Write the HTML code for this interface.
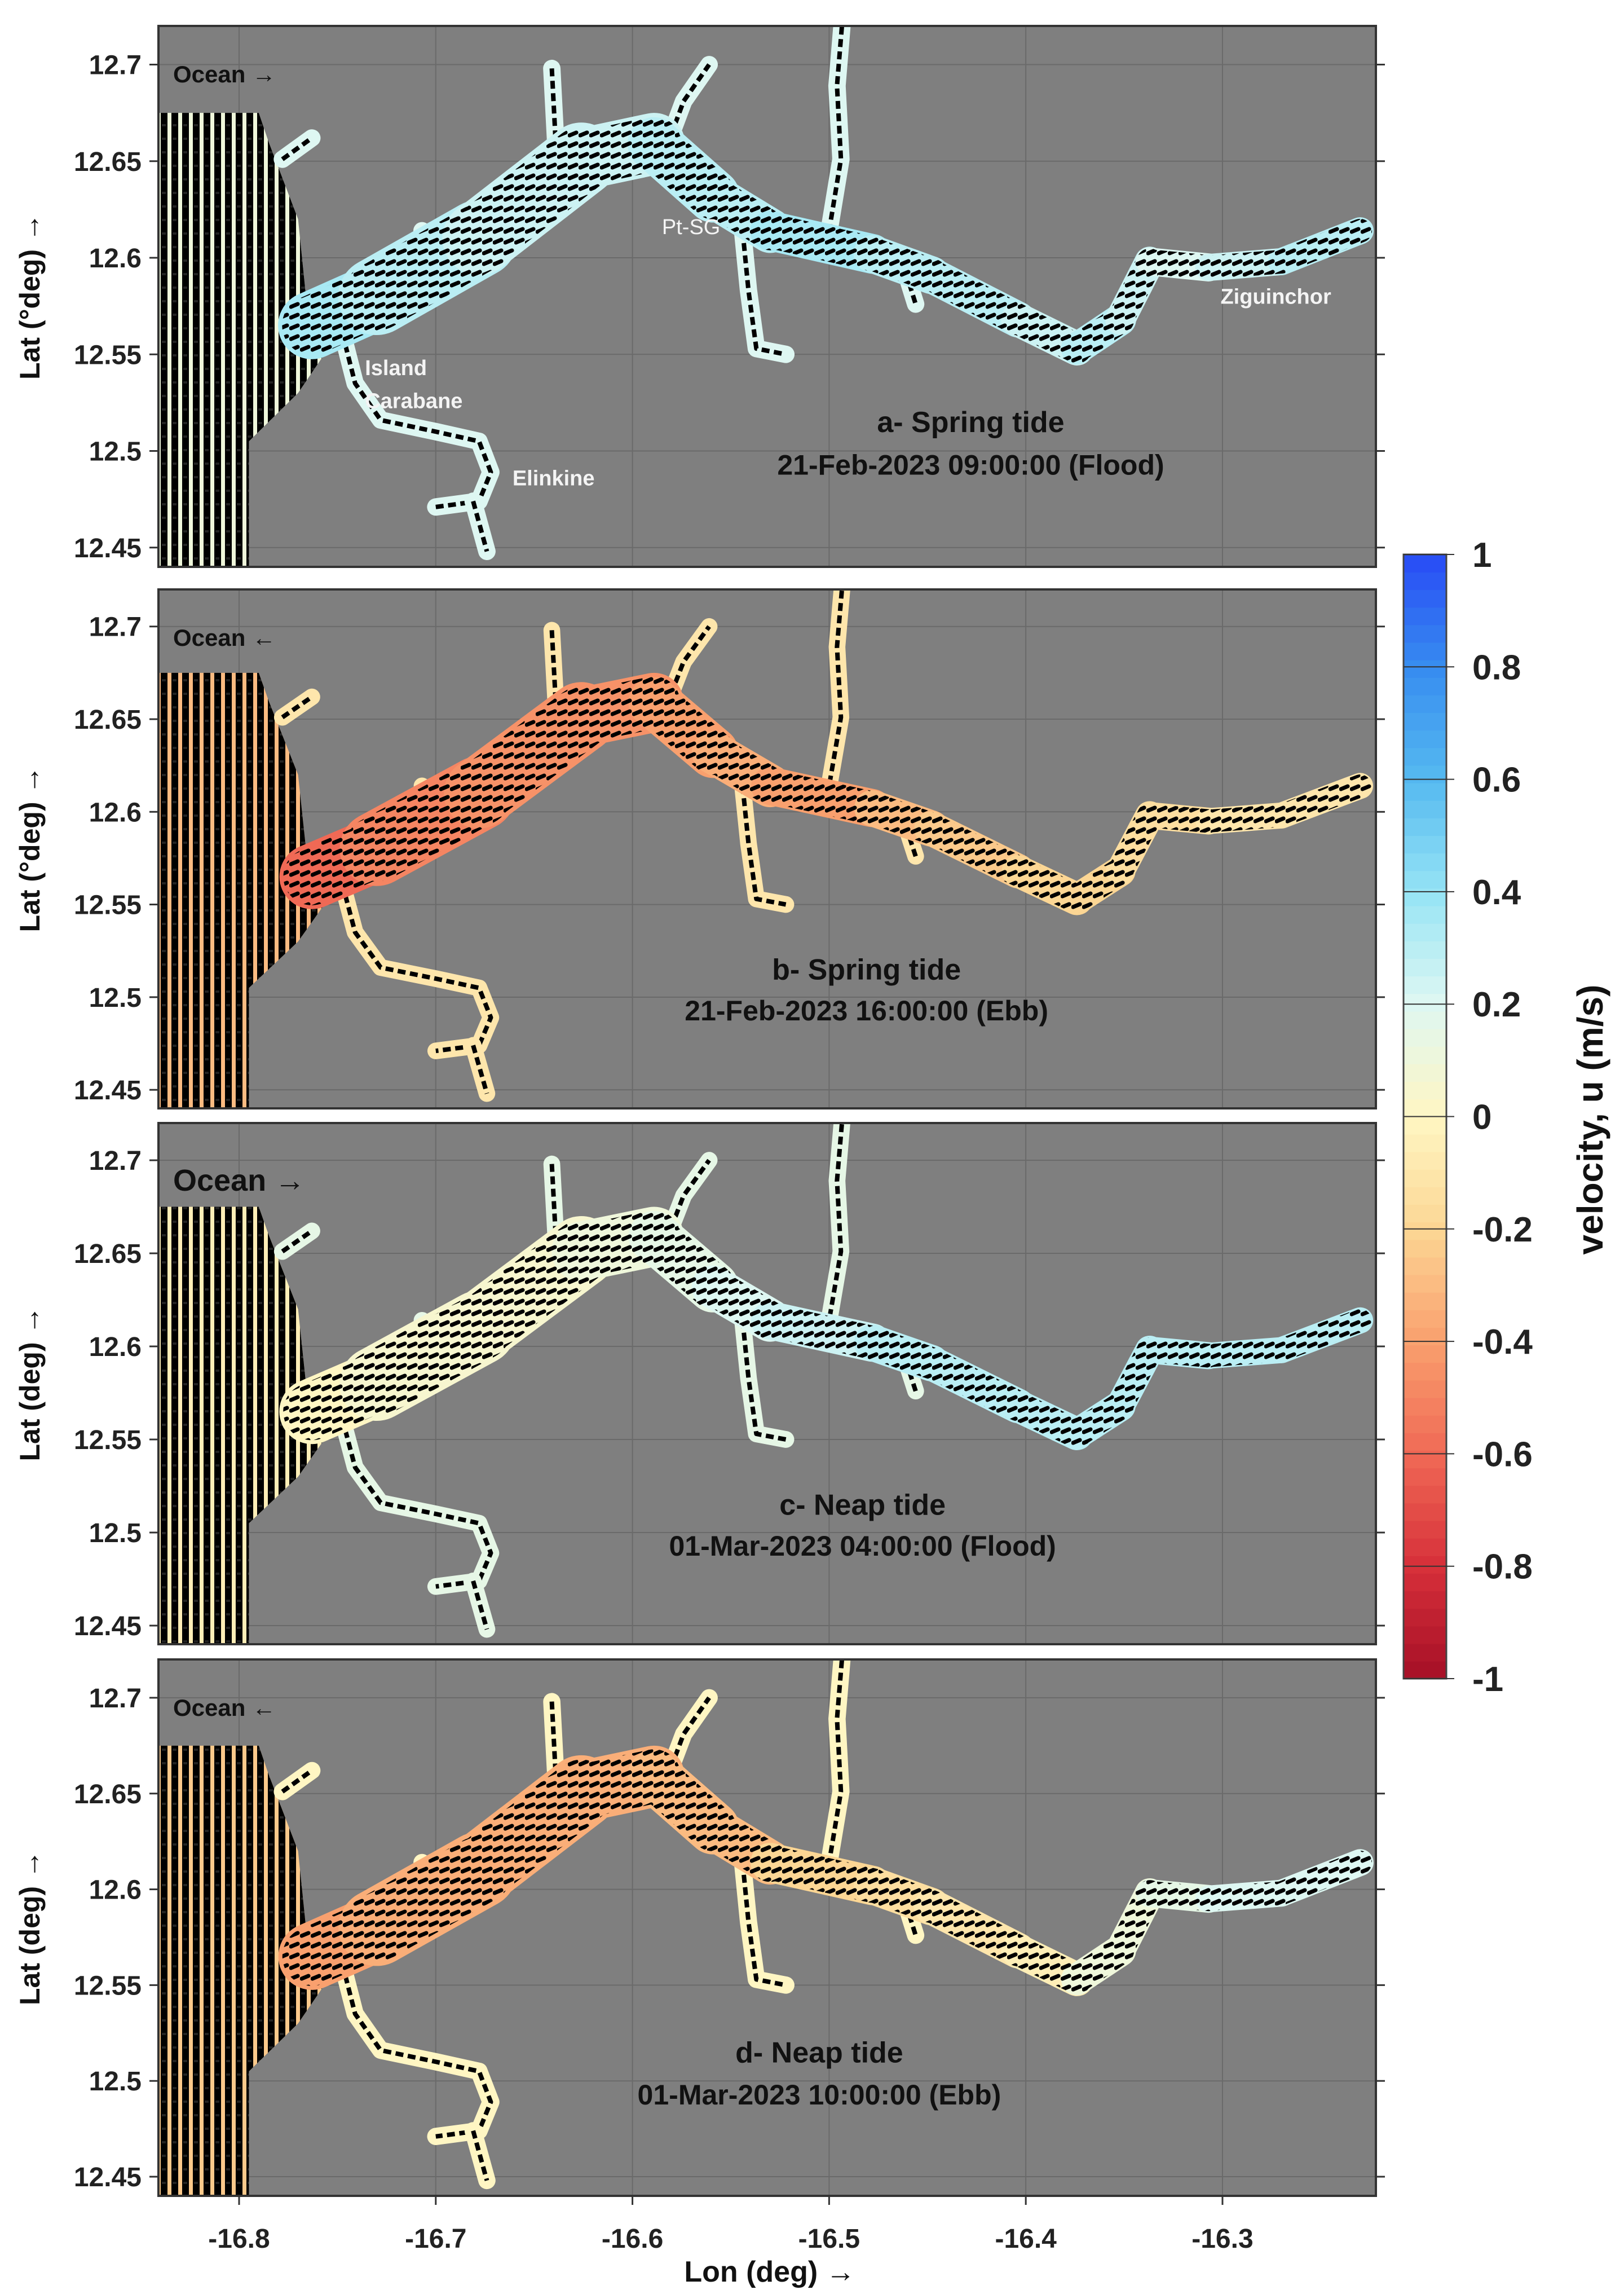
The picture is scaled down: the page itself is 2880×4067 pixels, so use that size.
<!DOCTYPE html>
<html><head><meta charset="utf-8">
<style>
html,body{margin:0;padding:0;background:#fff;}
svg{display:block;font-family:"Liberation Sans",Arial,sans-serif;}
</style></head>
<body>
<svg id="fig" width="2880" height="4067" viewBox="0 0 2880 4067" xmlns="http://www.w3.org/2000/svg">
<defs>
<pattern id="arrows" patternUnits="userSpaceOnUse" width="19" height="19">
<line x1="3" y1="12" x2="15" y2="7" stroke="#000" stroke-width="7" stroke-linecap="round"/>
</pattern>
<pattern id="stripes" patternUnits="userSpaceOnUse" width="19" height="24">
<rect x="0" y="0" width="12" height="24" fill="#000"/>
<rect x="2" y="4" width="7" height="4" fill="#222"/>
</pattern>
</defs>
</svg>
<script>
// ---- data ----
const lonTicks = [-16.8, -16.7, -16.6, -16.5, -16.4, -16.3];
const latTicks = [12.45, 12.5, 12.55, 12.6, 12.65, 12.7];
const latTickLabels = ["12.45","12.5","12.55","12.6","12.65","12.7"];
const cbTicks = [1, 0.8, 0.6, 0.4, 0.2, 0, -0.2, -0.4, -0.6, -0.8, -1];
const cbTickLabels = ["1","0.8","0.6","0.4","0.2","0","-0.2","-0.4","-0.6","-0.8","-1"];
const mainLon = [-16.763,-16.730,-16.678,-16.626,-16.589,-16.559,-16.530,-16.478,-16.448,-16.404,-16.374,-16.352,-16.337,-16.307,-16.270,-16.230];
const mainLat = [12.565,12.580,12.610,12.651,12.659,12.632,12.614,12.602,12.591,12.568,12.553,12.568,12.598,12.595,12.598,12.614];
const mainWidthDeg = [0.032,0.038,0.042,0.034,0.030,0.025,0.021,0.020,0.019,0.018,0.017,0.016,0.015,0.014,0.014,0.014];
const tribLon = [
 [-16.746,-16.741,-16.728,-16.700,-16.678,-16.672,-16.678,-16.700],
 [-16.681,-16.674],
 [-16.641,-16.639,-16.626],
 [-16.585,-16.574,-16.561],
 [-16.493,-16.496,-16.494,-16.500],
 [-16.544,-16.541,-16.537,-16.522],
 [-16.463,-16.456],
 [-16.707,-16.700],
 [-16.778,-16.763]
];
const tribLat = [
 [12.555,12.535,12.516,12.510,12.505,12.489,12.474,12.471],
 [12.474,12.448],
 [12.698,12.659,12.651],
 [12.651,12.681,12.700],
 [12.726,12.689,12.651,12.614],
 [12.614,12.583,12.553,12.550],
 [12.599,12.576],
 [12.614,12.607],
 [12.651,12.662]
];
const oceanLon = [-16.841,-16.790,-16.785,-16.770,-16.765,-16.750,-16.770,-16.795,-16.795,-16.841];
const oceanLat = [12.675,12.675,12.660,12.620,12.570,12.560,12.530,12.505,12.440,12.440];
const velA = [0.35,0.30,0.25,0.25,0.30,0.30,0.35,0.30,0.30,0.25,0.30,0.25,0.20,0.25,0.30];
const velB = [-0.60,-0.50,-0.45,-0.45,-0.40,-0.35,-0.40,-0.30,-0.25,-0.20,-0.20,-0.15,-0.15,-0.10,-0.10];
const velC = [0.00,0.05,0.05,0.10,0.15,0.20,0.25,0.30,0.30,0.30,0.30,0.30,0.30,0.30,0.30];
const velD = [-0.40,-0.35,-0.35,-0.35,-0.30,-0.30,-0.20,-0.15,-0.10,-0.05,0.10,0.10,0.15,0.20,0.20];
const oceanVel = [0.10, -0.30, -0.05, -0.25];
const tribVel = [0.20, -0.10, 0.15, 0.00];
const panelTitles = ["a- Spring tide","b- Spring tide","c- Neap tide","d- Neap tide"];
const panelDates = ["21-Feb-2023 09:00:00 (Flood)","21-Feb-2023 16:00:00 (Ebb)","01-Mar-2023 04:00:00 (Flood)","01-Mar-2023 10:00:00 (Ebb)"];
const oceanLabels = ["Ocean \u2192","Ocean \u2190","Ocean \u2192","Ocean \u2190"];
const yTitles = ["Lat (\u00B0deg) \u2192","Lat (\u00B0deg) \u2192","Lat (deg) \u2192","Lat (deg) \u2192"];
const titleLon = [-16.428,-16.481,-16.483,-16.505];
const placeNames = ["Pt-SG","Ziguinchor","Island","Carabane","Elinkine"];
const placeLon = [-16.585,-16.301,-16.736,-16.736,-16.661];
const placeLat = [12.616,12.580,12.543,12.526,12.486];

// ---- layout ----
const NS = "http://www.w3.org/2000/svg";
const svg = document.getElementById('fig');
const PL = 281, PR = 2440, LON0 = -16.841, LON1 = -16.222, LAT0 = 12.44, LAT1 = 12.72;
const panelTop = [46, 1045, 1991, 2942];
const panelBot = [1005, 1965, 2915, 3893];
const vels = [velA, velB, velC, velD];
const names = ['a','b','c','d'];

function el(tag, attrs, parent){const e=document.createElementNS(NS,tag);for(const k in attrs)e.setAttribute(k,attrs[k]);(parent||svg).appendChild(e);return e;}
function xScale(lon){return PL+(lon-LON0)/(LON1-LON0)*(PR-PL);}
function yScaleFor(p){return lat=>panelBot[p]-(lat-LAT0)/(LAT1-LAT0)*(panelBot[p]-panelTop[p]);}

const cmStops=[[-1,[165,15,38]],[-0.8,[215,48,58]],[-0.6,[240,105,85]],[-0.4,[249,160,110]],[-0.2,[252,214,148]],[0,[255,246,195]],[0.2,[222,247,242]],[0.4,[150,228,245]],[0.6,[85,185,240]],[0.8,[55,140,240]],[1,[40,75,245]]];
function cmap(v){v=Math.max(-1,Math.min(1,v));for(let i=0;i<cmStops.length-1;i++){const a=cmStops[i],b=cmStops[i+1];if(v<=b[0]){const t=(v-a[0])/(b[0]-a[0]);const c=a[1].map((x,j)=>Math.round(x+(b[1][j]-x)*t));return `rgb(${c[0]},${c[1]},${c[2]})`;}}return 'rgb(40,75,245)';}

for(let p=0;p<4;p++){
  const ys=yScaleFor(p);
  const pxPerDeg=(panelBot[p]-panelTop[p])/(LAT1-LAT0);
  const g=el('g',{});
  
  
  const cp=el('clipPath',{id:'clip'+p});
  el('rect',{x:PL,y:panelTop[p],width:PR-PL,height:panelBot[p]-panelTop[p]},cp);
  const bg=el('rect',{x:PL,y:panelTop[p],width:PR-PL,height:panelBot[p]-panelTop[p],fill:'#7f7f7f'},g);
  
  
  lonTicks.forEach(t=>{const l=el('line',{x1:xScale(t),x2:xScale(t),y1:panelTop[p],y2:panelBot[p],stroke:'#6a6a6a','stroke-width':2},g);});
  latTicks.forEach(t=>{const l=el('line',{x1:PL,x2:PR,y1:ys(t),y2:ys(t),stroke:'#6a6a6a','stroke-width':2},g);});
  const dg=el('g',{'clip-path':`url(#clip${p})`},g);
  const opts=oceanLon.map((lo,i)=>xScale(lo)+','+ys(oceanLat[i])).join(' ');
  const oc=el('polygon',{points:opts,fill:cmap(oceanVel[p])},dg);
  
  
  const os=el('polygon',{points:opts,fill:'url(#stripes)'},dg);
  
  
  tribLon.forEach((arr,k)=>{
    const pts=arr.map((lo,i)=>xScale(lo)+','+ys(tribLat[k][i])).join(' ');
    const t=el('polyline',{points:pts,fill:'none',stroke:cmap(tribVel[p]),'stroke-width':0.009*pxPerDeg,'stroke-linecap':'round','stroke-linejoin':'round'},dg);
    
    
    const ta=el('polyline',{points:pts,fill:'none',stroke:'#000','stroke-width':8,'stroke-dasharray':'14 8','stroke-linejoin':'round'},dg);
    
    
  });
  const v=vels[p];
  for(let i=0;i<mainLon.length-1;i++){
    const s=el('line',{x1:xScale(mainLon[i]),y1:ys(mainLat[i]),x2:xScale(mainLon[i+1]),y2:ys(mainLat[i+1]),stroke:cmap(v[i]),'stroke-width':(mainWidthDeg[i]+mainWidthDeg[i+1])/2*pxPerDeg,'stroke-linecap':'round'},dg);
    
    
  }
  for(let i=0;i<mainLon.length-1;i++){
    const s=el('line',{x1:xScale(mainLon[i]),y1:ys(mainLat[i]),x2:xScale(mainLon[i+1]),y2:ys(mainLat[i+1]),stroke:'url(#arrows)','stroke-width':(mainWidthDeg[i]+mainWidthDeg[i+1])/2*pxPerDeg*0.88,'stroke-linecap':'round'},dg);
    
    
  }
  const bd=el('rect',{x:PL,y:panelTop[p],width:PR-PL,height:panelBot[p]-panelTop[p],fill:'none',stroke:'#333','stroke-width':4},g);
  
  
  latTicks.forEach((t,i)=>{
    el('line',{x1:PL-16,x2:PL,y1:ys(t),y2:ys(t),stroke:'#333','stroke-width':3},g);
    el('line',{x1:PR,x2:PR+16,y1:ys(t),y2:ys(t),stroke:'#333','stroke-width':3},g);
    const tx=el('text',{x:PL-30,y:ys(t)+17,'text-anchor':'end','font-size':48,'font-weight':'bold',fill:'#222'},g);
    tx.textContent=latTickLabels[i];
    
    
  });
  const cy=(panelTop[p]+panelBot[p])/2;
  const yt=el('text',{x:0,y:0,transform:`translate(70,${cy}) rotate(-90)`,'text-anchor':'middle','font-size':50,'font-weight':'bold',fill:'#111'},g);
  yt.textContent=yTitles[p];
  
  
  const ol=el('text',{x:307,y:panelTop[p]+(p===2?120:100),'font-size':p===2?54:42,'font-weight':'bold',fill:'#111'},g);
  ol.textContent=oceanLabels[p];
  
  
  const t1=el('text',{x:xScale(titleLon[p]),y:ys(12.515)+18,'text-anchor':'middle','font-size':52,'font-weight':'bold',fill:'#111'},g);
  t1.textContent=panelTitles[p];
  
  
  const t2=el('text',{x:xScale(titleLon[p]),y:ys(12.493)+18,'text-anchor':'middle','font-size':50,'font-weight':'bold',fill:'#111'},g);
  t2.textContent=panelDates[p];
  
  
  if(p===0){
    placeNames.forEach((n,i)=>{
      const pt=el('text',{x:xScale(placeLon[i]),y:ys(placeLat[i])+13,'font-size':38,'font-weight':i===0?'normal':'bold',fill:'#f4f4f4'},g);
      pt.textContent=n;
      
      
    });
  }
}
lonTicks.forEach(t=>{
  el('line',{x1:xScale(t),x2:xScale(t),y1:panelBot[3],y2:panelBot[3]+16,stroke:'#333','stroke-width':3});
  const tx=el('text',{x:xScale(t),y:3985,'text-anchor':'middle','font-size':48,'font-weight':'bold',fill:'#222'});
  tx.textContent=String(t);
  
  
});
const xt=el('text',{x:1365,y:4045,'text-anchor':'middle','font-size':52,'font-weight':'bold',fill:'#111'});
xt.textContent='Lon (deg) \u2192';



const CBL=2489, CBR=2565, CBT=983, CBB=2976;
function cbY(v){return CBB-(v+1)/2*(CBB-CBT);}
const cbg=el('g',{});


const NB=64;
for(let i=0;i<NB;i++){
  const v0=-1+2*i/NB, v1=-1+2*(i+1)/NB;
  el('rect',{x:CBL,y:cbY(v1),width:CBR-CBL,height:cbY(v0)-cbY(v1)+0.8,fill:cmap((v0+v1)/2)},cbg);
}
el('rect',{x:CBL,y:CBT,width:CBR-CBL,height:CBB-CBT,fill:'none',stroke:'#444','stroke-width':3},cbg);
cbTicks.forEach((t,i)=>{
  el('line',{x1:CBL,x2:CBR+14,y1:cbY(t),y2:cbY(t),stroke:'#333','stroke-width':2},cbg);
  const tx=el('text',{x:2611,y:cbY(t)+22,'font-size':62,'font-weight':'bold',fill:'#222'},cbg);
  tx.textContent=cbTickLabels[i];
  
  
});
const cbt=el('text',{x:0,y:0,transform:'translate(2842,1985) rotate(-90)','text-anchor':'middle','font-size':64,'font-weight':'bold',fill:'#111'},cbg);
cbt.textContent='velocity, u  (m/s)';


</script>
</body></html>
